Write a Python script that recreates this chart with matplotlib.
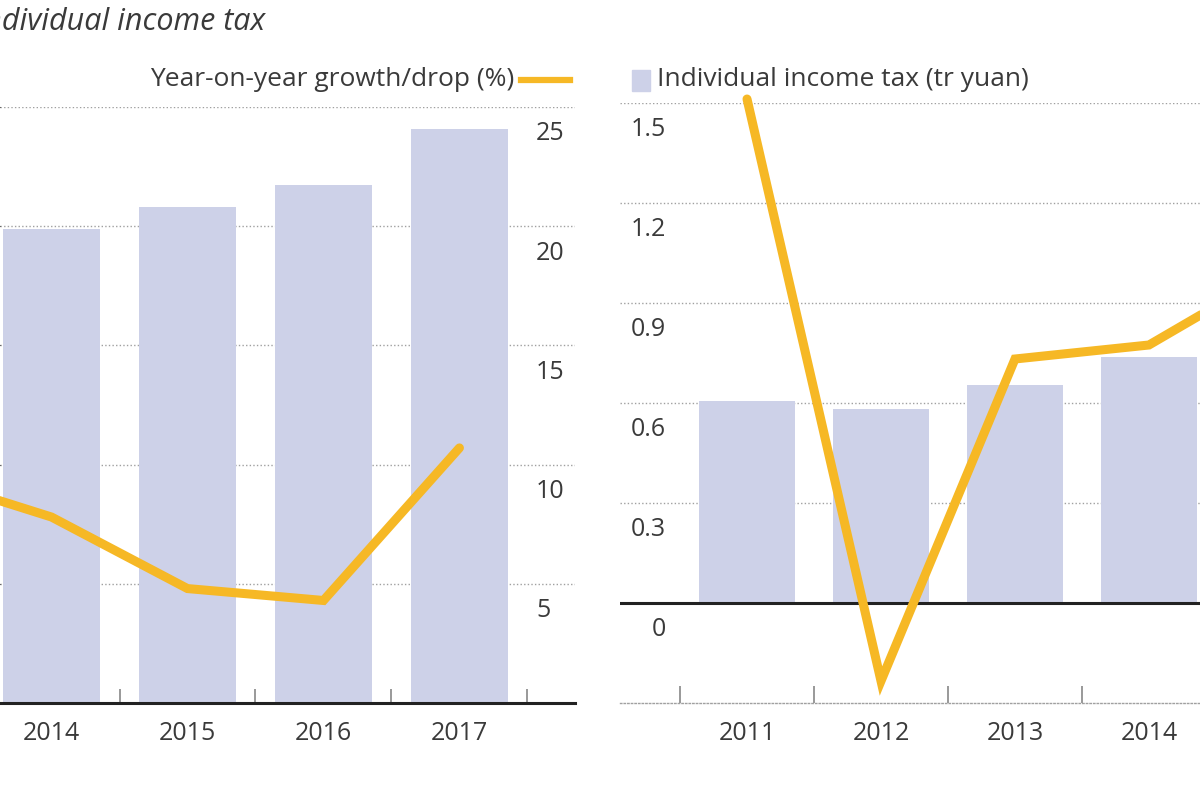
import matplotlib
matplotlib.use("Agg")
import matplotlib.pyplot as plt
from matplotlib.lines import Line2D
from matplotlib.patches import Rectangle
from matplotlib.transforms import ScaledTranslation

plt.rcParams['font.family'] = ['Open Sans', 'DejaVu Sans']

# ---- data ----
left_years = ['2013', '2014', '2015', '2016', '2017']
left_bars = [11.05, 11.92, 12.49, 13.04, 14.44]      # tr yuan (left scale 0-15, hidden)
left_growth = [9.6, 7.8, 4.8, 4.3, 10.7]             # %
right_years = ['2011', '2012', '2013', '2014', '2015']
right_bars = [0.605, 0.582, 0.653, 0.738, 0.862]     # tr yuan
right_growth = [25.2, -3.9, 12.2, 12.9, 16.8]        # %
pct_ticks = [5, 10, 15, 20, 25]
tr_ticks = [0.3, 0.6, 0.9, 1.2, 1.5]
tr_tick_labels = ['0.3', '0.6', '0.9', '1.2', '1.5']

BAR = '#cdd1e8'
LINE = '#f6b825'
TXT = '#3a3a3a'
GRID = '#a0a0a0'
W, H = 1200, 800

fig = plt.figure(figsize=(12, 8), dpi=100)

def px(x0, y_top, x1, y_bot):
    return [x0 / W, 1 - y_bot / H, (x1 - x0) / W, (y_bot - y_top) / H]

def shift(labels, dx, dy):
    for lab in labels:
        lab.set_transform(lab.get_transform() + ScaledTranslation(dx / 100, dy / 100, fig.dpi_scale_trans))

dots = (0, (1, 1.6))
FS = 18

# ---------- left panel ----------
axL = fig.add_axes(px(0, 107, 575, 703))
xL = list(range(len(left_years)))
axL.set_ylim(0, 15)
axL.set_yticks([3, 6, 9, 12, 15])
axL.yaxis.grid(True, color=GRID, linestyle=dots, linewidth=1.0)
axL.set_axisbelow(True)
axL.bar(xL, left_bars, width=0.71, color=BAR, zorder=2)
axL.tick_params(axis='y', left=False, labelleft=False)
for s in ['top', 'left', 'right']:
    axL.spines[s].set_visible(False)
axL.spines['bottom'].set_color('#222222')
axL.spines['bottom'].set_linewidth(2.2)
axL.set_xticks(xL)
axL.set_xticklabels(left_years, fontsize=FS, color=TXT)
axL.set_xticks([i + 0.5 for i in xL], minor=True)
axL.tick_params(axis='x', which='major', length=0, pad=13)
axL.tick_params(axis='x', which='minor', direction='in', length=10, width=1.2, color='#888888')

axL2 = axL.twinx()
axL2.set_ylim(0, 25)
axL2.plot(xL, left_growth, color=LINE, linewidth=6.5, solid_joinstyle='miter', solid_capstyle='round', zorder=3)
axL2.set_yticks(pct_ticks)
axL2.set_yticklabels([str(t) for t in pct_ticks], fontsize=FS, color=TXT)
axL2.tick_params(axis='y', length=0, pad=-28)
for lab in axL2.get_yticklabels():
    lab.set_ha('left')
shift(axL2.get_yticklabels(), 0, -24)
for s in axL2.spines.values():
    s.set_visible(False)
axL.set_xlim(0.621, 4.85)

# ---------- right panel ----------
axR = fig.add_axes(px(620, 103, 1200, 703))
xR = list(range(len(right_years)))
axR.set_ylim(-0.3, 1.5)
axR.set_yticks([0] + tr_ticks)
axR.set_yticklabels(['0'] + tr_tick_labels, fontsize=FS, color=TXT)
axR.yaxis.grid(True, color=GRID, linestyle=dots, linewidth=1.0)
axR.set_axisbelow(True)
axR.bar(xR, right_bars, width=0.71, color=BAR, zorder=2)
axR.axhline(0, color='#222222', linewidth=2.2, zorder=2.5)
axR.tick_params(axis='y', length=0, pad=-33)
shift(axR.get_yticklabels(), 0, -24)
for s in ['top', 'left', 'right']:
    axR.spines[s].set_visible(False)
axR.spines['bottom'].set_color(GRID)
axR.spines['bottom'].set_linestyle(dots)
axR.spines['bottom'].set_linewidth(1.0)
axR.set_xticks(xR)
axR.set_xticklabels(right_years, fontsize=FS, color=TXT)
axR.set_xticks([i - 0.5 for i in xR], minor=True)
axR.tick_params(axis='x', which='major', length=0, pad=13)
axR.tick_params(axis='x', which='minor', direction='in', length=12, width=1.2, color='#888888')

axR2 = axR.twinx()
axR2.set_ylim(-5, 25)
axR2.plot(xR, right_growth, color=LINE, linewidth=6.5, solid_joinstyle='miter', solid_capstyle='round', zorder=3, clip_on=False)
axR2.set_yticks([])
for s in axR2.spines.values():
    s.set_visible(False)
axR.set_xlim(-0.948, 3.381)

# ---------- legend & title ----------
fig.text(265 / W, 1 - 22 / H, 'Individual income tax', ha='right', va='center',
         fontsize=22, style='italic', color=TXT)
fig.text(514 / W, 1 - 80 / H, 'Year-on-year growth/drop (%)', ha='right', va='center',
         fontsize=19, color=TXT)
fig.add_artist(Line2D([521 / W, 570 / W], [1 - 80 / H, 1 - 80 / H], color=LINE, linewidth=4.5,
                      transform=fig.transFigure))
fig.add_artist(Rectangle((632 / W, 1 - 91 / H), 18 / W, 21 / H, color=BAR, transform=fig.transFigure))
fig.text(657 / W, 1 - 80 / H, 'Individual income tax (tr yuan)', ha='left', va='center',
         fontsize=19, color=TXT)

fig.savefig('out.png', dpi=100)
